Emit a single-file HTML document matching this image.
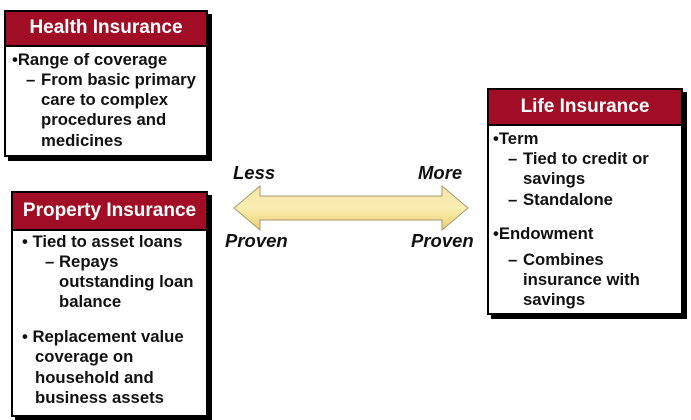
<!DOCTYPE html>
<html><head><meta charset="utf-8"><style>
body{margin:0;width:691px;height:420px;background:#fff;position:relative;overflow:hidden;font-family:"Liberation Sans",Arial,sans-serif;font-weight:bold;color:#111}
.box{position:absolute;background:#fff;border:2px solid #000;box-shadow:4px 4px 0 #000;box-sizing:border-box}
.hd{position:absolute;left:0;right:0;top:0;background:#a00d25;color:#fff;font-size:19px;text-align:center;border-bottom:2px solid #000;box-sizing:border-box}
.t{position:absolute;font-size:16.7px;line-height:20px;white-space:nowrap}
.lbl{position:absolute;font-size:18.5px;font-style:italic;line-height:20px}
</style></head><body>
<div class="box" style="left:4px;top:10px;width:204px;height:147px"><div class="hd" style="height:35px;line-height:32px">Health Insurance</div></div>
<div class="t" style="left:12px;top:50px">•Range of coverage</div>
<div class="t" style="left:26px;top:70px">–</div>
<div class="t" style="left:41px;top:70px">From basic primary</div>
<div class="t" style="left:41px;top:90px">care to complex</div>
<div class="t" style="left:41px;top:110px">procedures and</div>
<div class="t" style="left:41px;top:131px">medicines</div>

<div class="box" style="left:11px;top:191px;width:197px;height:226px"><div class="hd" style="height:38px;line-height:36px">Property Insurance</div></div>
<div class="t" style="left:22px;top:232px">• Tied to asset loans</div>
<div class="t" style="left:45px;top:252px">–</div>
<div class="t" style="left:59px;top:252px">Repays</div>
<div class="t" style="left:59px;top:272px">outstanding loan</div>
<div class="t" style="left:59px;top:292px">balance</div>
<div class="t" style="left:22px;top:327px">• Replacement value</div>
<div class="t" style="left:35px;top:347px">coverage on</div>
<div class="t" style="left:35px;top:368px">household and</div>
<div class="t" style="left:35px;top:388px">business assets</div>

<div class="box" style="left:487px;top:88px;width:196px;height:227px"><div class="hd" style="height:36px;line-height:34px">Life Insurance</div></div>
<div class="t" style="left:493px;top:129px">•Term</div>
<div class="t" style="left:508px;top:149px">–</div>
<div class="t" style="left:523px;top:149px">Tied to credit or</div>
<div class="t" style="left:523px;top:169px">savings</div>
<div class="t" style="left:508px;top:190px">–</div>
<div class="t" style="left:523px;top:190px">Standalone</div>
<div class="t" style="left:493px;top:224px">•Endowment</div>
<div class="t" style="left:508px;top:250px">–</div>
<div class="t" style="left:523px;top:250px">Combines</div>
<div class="t" style="left:523px;top:270px">insurance with</div>
<div class="t" style="left:523px;top:290px">savings</div>

<svg style="position:absolute;left:0;top:0" width="691" height="420">
<defs><linearGradient id="g" x1="0" y1="0" x2="0" y2="1"><stop offset="0" stop-color="#f3e6a8"/><stop offset="0.5" stop-color="#fbeeb0"/><stop offset="1" stop-color="#e8cf70"/></linearGradient></defs>
<polygon points="234,208 260,186 260,196 442,196 442,186 468,208 442,230 442,220 260,220 260,230" fill="url(#g)" stroke="#a89a70" stroke-width="1"/>
</svg>
<div class="lbl" style="left:233px;top:163px">Less</div>
<div class="lbl" style="left:418px;top:163px">More</div>
<div class="lbl" style="left:225px;top:231px">Proven</div>
<div class="lbl" style="left:411px;top:231px">Proven</div>
</body></html>
